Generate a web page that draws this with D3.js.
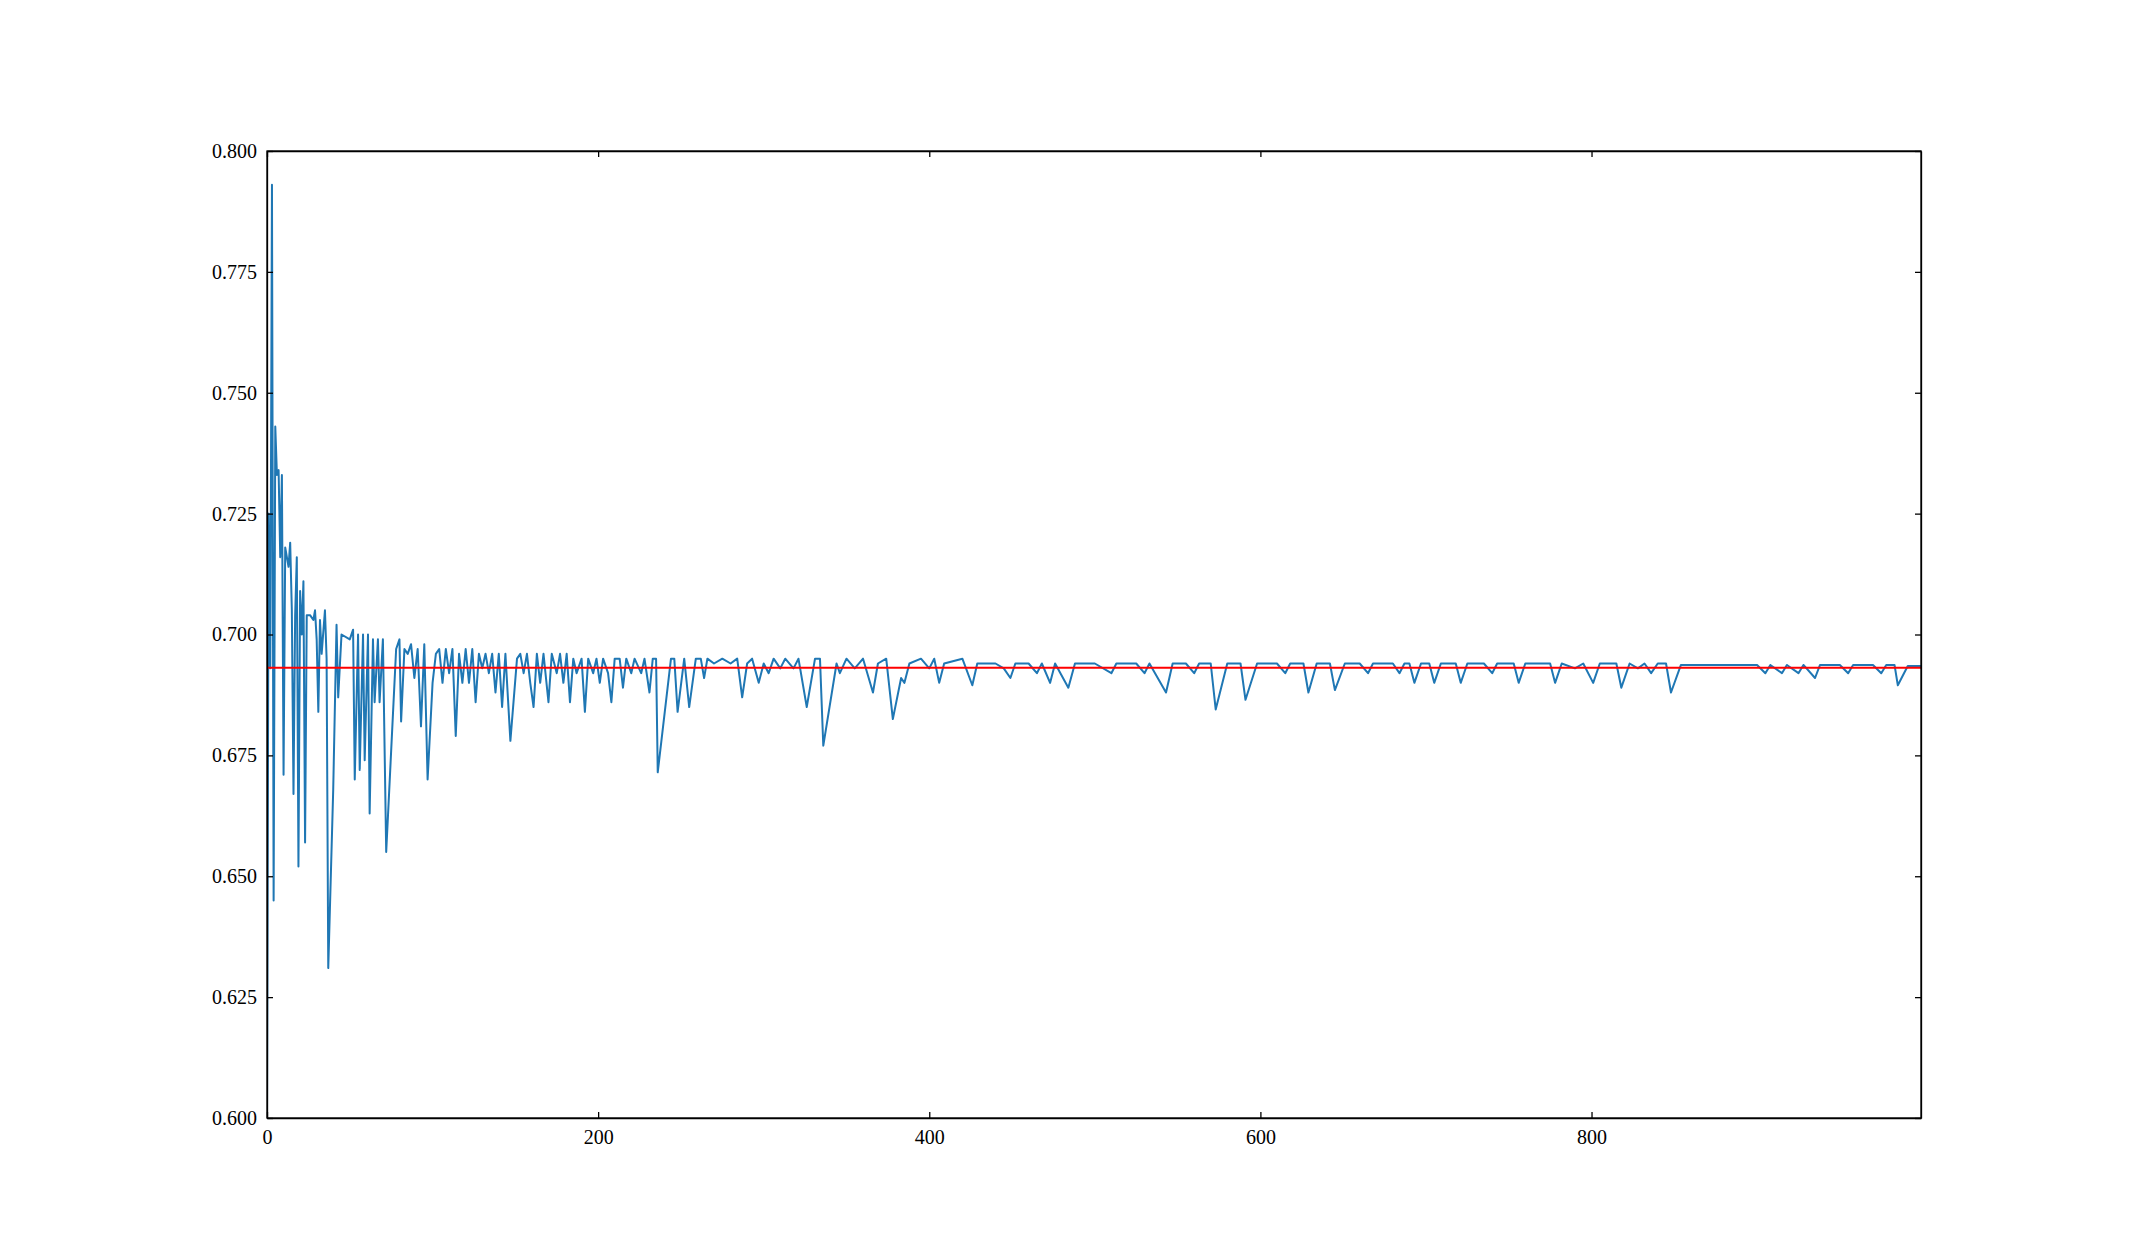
<!DOCTYPE html>
<html>
<head>
<meta charset="utf-8">
<script src="https://cdn.jsdelivr.net/npm/d3@7"></script>
<style>
  body { margin: 0; background: #fff; }
  .axis text { font-family: "Liberation Serif", "Times New Roman", serif; font-size: 20px; fill: #000; }
  .axis path, .axis line { stroke: #000; stroke-width: 1.3; }
</style>
</head>
<body>
<div id="chart"></div>
<script>
// x / y ticks
const xTicks = [0, 200, 400, 600, 800];
const yTicks = [0.600, 0.625, 0.650, 0.675, 0.700, 0.725, 0.750, 0.775, 0.800];
const refValue = 0.6931;

// running estimate as [step, value]
const steps = [0,1,2,3,4,5,6,7,8,9,10,11,12,13,14,15,16,17,18,19,20,21,22,23,24,26,28,29,30,31,32,33,35,36,37,40,42,43,45,50,52,53,55,56,58,59,61,62,64,65,67,68,70,72,78,80,81,83,85,87,89,91,93,95,97,100,102,104,106,108,110,112,114,116,118,120,122,124,126,128,130,132,134,136,138,140,142,144,147,151,153,155,157,159,161,163,165,167,170,172,175,177,179,181,183,185,187,190,192,194,197,199,201,203,206,208,210,213,215,217,220,222,226,228,231,233,235,236,244,246,248,252,255,259,262,264,266,270,275,280,284,287,290,293,297,300,303,306,310,313,318,321,326,331,334,336,344,346,350,355,360,366,369,374,378,383,385,388,395,400,403,406,409,420,426,429,440,445,449,452,460,465,468,473,476,484,488,500,510,513,525,530,533,543,547,555,560,563,570,573,580,588,591,598,610,615,618,626,629,634,642,645,651,660,665,668,680,684,687,690,693,697,702,705,709,718,721,725,735,740,743,753,756,760,775,778,782,790,795,801,805,815,818,823,828,832,836,840,845,848,854,900,905,908,915,918,925,928,935,938,950,955,958,970,975,978,983,985,991,999];
const values = [0.600,0.725,0.693,0.793,0.645,0.743,0.733,0.734,0.716,0.733,0.671,0.718,0.716,0.714,0.719,0.705,0.667,0.704,0.716,0.652,0.709,0.700,0.711,0.657,0.704,0.704,0.703,0.705,0.699,0.684,0.703,0.696,0.705,0.695,0.631,0.668,0.702,0.687,0.700,0.699,0.701,0.670,0.700,0.672,0.700,0.674,0.700,0.663,0.699,0.686,0.699,0.686,0.699,0.655,0.697,0.699,0.682,0.697,0.696,0.698,0.691,0.697,0.681,0.698,0.670,0.690,0.696,0.697,0.690,0.697,0.692,0.697,0.679,0.696,0.690,0.697,0.690,0.697,0.686,0.696,0.693,0.696,0.692,0.696,0.688,0.696,0.685,0.696,0.678,0.695,0.696,0.692,0.696,0.690,0.685,0.696,0.690,0.696,0.686,0.696,0.692,0.696,0.690,0.696,0.686,0.695,0.692,0.695,0.684,0.695,0.692,0.695,0.690,0.695,0.692,0.686,0.695,0.695,0.689,0.695,0.692,0.695,0.692,0.695,0.688,0.695,0.695,0.6715,0.695,0.695,0.684,0.695,0.685,0.695,0.695,0.691,0.695,0.694,0.695,0.694,0.695,0.687,0.694,0.695,0.690,0.694,0.692,0.695,0.693,0.695,0.693,0.695,0.685,0.695,0.695,0.677,0.694,0.692,0.695,0.693,0.695,0.688,0.694,0.695,0.6825,0.691,0.690,0.694,0.695,0.693,0.695,0.690,0.694,0.695,0.6895,0.694,0.694,0.693,0.691,0.694,0.694,0.692,0.694,0.690,0.694,0.689,0.694,0.694,0.692,0.694,0.694,0.692,0.694,0.688,0.694,0.694,0.692,0.694,0.694,0.6845,0.694,0.694,0.6865,0.694,0.694,0.692,0.694,0.694,0.688,0.694,0.694,0.6885,0.694,0.694,0.692,0.694,0.694,0.692,0.694,0.694,0.690,0.694,0.694,0.690,0.694,0.694,0.690,0.694,0.694,0.692,0.694,0.694,0.690,0.694,0.694,0.690,0.694,0.693,0.694,0.690,0.694,0.694,0.689,0.694,0.693,0.694,0.692,0.694,0.694,0.688,0.6937,0.6937,0.692,0.6937,0.692,0.6937,0.692,0.6937,0.691,0.6937,0.6937,0.692,0.6937,0.6937,0.692,0.6937,0.6937,0.6895,0.6935,0.6935];

const W = 2134, H = 1256;
const margin = {top: 151, right: 213, bottom: 138, left: 267};
const width = W - margin.left - margin.right;
const height = H - margin.top - margin.bottom;

const svg = d3.select("#chart").append("svg")
    .attr("width", W)
    .attr("height", H)
    .append("g")
    .attr("transform", `translate(${margin.left},${margin.top})`);

const x = d3.scaleLinear().domain([0, 999]).range([0, width]);
const y = d3.scaleLinear().domain([0.6, 0.8]).range([height, 0]);

const data = steps.map((s, i) => ({s: s, v: values[i]}));

svg.append("defs").append("clipPath").attr("id", "clip")
    .append("rect").attr("width", width).attr("height", height);

svg.append("path")
    .datum(data)
    .attr("clip-path", "url(#clip)")
    .attr("fill", "none")
    .attr("stroke", "#1f77b4")
    .attr("stroke-width", 2)
    .attr("stroke-linejoin", "round")
    .attr("d", d3.line().x(d => x(d.s)).y(d => y(d.v)));

svg.append("line")
    .attr("x1", 0).attr("x2", width)
    .attr("y1", y(refValue)).attr("y2", y(refValue))
    .attr("stroke", "#ff0000")
    .attr("stroke-width", 2);

const tl = 6;
svg.append("g").attr("class", "axis")
    .attr("transform", `translate(0,${height})`)
    .call(d3.axisBottom(x).tickValues(xTicks).tickFormat(d3.format("d")).tickSizeInner(-tl).tickSizeOuter(0).tickPadding(12));
svg.append("g").attr("class", "axis")
    .call(d3.axisTop(x).tickValues(xTicks).tickFormat("").tickSizeInner(-tl).tickSizeOuter(0));
svg.append("g").attr("class", "axis")
    .call(d3.axisLeft(y).tickValues(yTicks).tickFormat(d3.format(".3f")).tickSizeInner(-tl).tickSizeOuter(0).tickPadding(10));
svg.append("g").attr("class", "axis")
    .attr("transform", `translate(${width},0)`)
    .call(d3.axisRight(y).tickValues(yTicks).tickFormat("").tickSizeInner(-tl).tickSizeOuter(0));

svg.append("rect")
    .attr("width", width).attr("height", height)
    .attr("fill", "none").attr("stroke", "#000").attr("stroke-width", 1.3);
</script>
</body>
</html>
